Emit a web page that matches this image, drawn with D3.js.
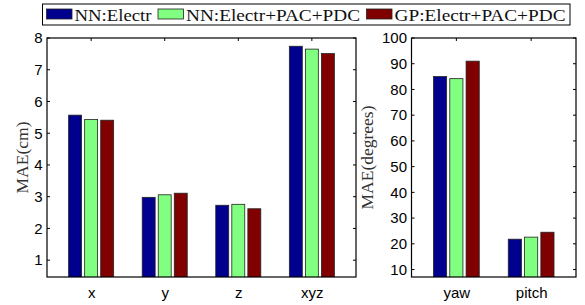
<!DOCTYPE html>
<html><head><meta charset="utf-8">
<script src="https://cdn.jsdelivr.net/npm/d3@7"></script>
<style>
html,body{margin:0;padding:0;background:#fff;}
svg{display:block;}
</style></head>
<body>
<script>
// ---- data ----
const seriesNames = ["NN:Electr", "NN:Electr+PAC+PDC", "GP:Electr+PAC+PDC"];
const seriesColors = ["#00008f", "#80ff80", "#800000"];
const posCategories = ["x", "y", "z", "xyz"];
const posNN = [5.57, 2.98, 2.73, 7.74];
const posNNPac = [5.43, 3.06, 2.76, 7.65];
const posGP = [5.41, 3.11, 2.62, 7.51];
const posTicks = [1, 2, 3, 4, 5, 6, 7, 8];
const angCategories = ["yaw", "pitch"];
const angNN = [85.0, 21.8];
const angNNPac = [84.2, 22.6];
const angGP = [91.0, 24.5];
const angTicks = [10, 20, 30, 40, 50, 60, 70, 80, 90, 100];

const W = 585, H = 305;
const svg = d3.select("body").append("svg").attr("width", W).attr("height", H);
const serif = "'Liberation Serif', 'Times New Roman', serif";
const sans = "'Liberation Sans', Arial, sans-serif";

function panel(opts) {
  const {x0, x1, y0, y1, cats, series, ydom, ticks, label, labelX, id} = opts;
  const n = cats.length;
  const xs = d3.scaleLinear().domain([0.4, n + 0.6]).range([x0, x1]);
  const ys = d3.scaleLinear().domain(ydom).range([y1, y0]);
  const g = svg.append("g");
  g.append("clipPath").attr("id", id).append("rect")
    .attr("x", x0).attr("y", y0).attr("width", x1 - x0).attr("height", y1 - y0);
  const off = 0.218, bw = 0.176;
  const bars = g.append("g").attr("clip-path", `url(#${id})`);
  series.forEach((vals, si) => {
    bars.selectAll(null).data(vals).enter().append("rect")
      .attr("x", (d, i) => xs(i + 1 + (si - 1) * off - bw / 2))
      .attr("width", xs(bw) - xs(0))
      .attr("y", d => ys(d))
      .attr("height", d => ys(0) - ys(d))
      .attr("fill", seriesColors[si])
      .attr("stroke", "#222").attr("stroke-width", 0.8);
  });
  // ticks inward
  const tl = 3;
  ticks.forEach(t => {
    g.append("line").attr("x1", x0).attr("x2", x0 + tl).attr("y1", ys(t)).attr("y2", ys(t)).attr("stroke", "#000");
    g.append("line").attr("x1", x1).attr("x2", x1 - tl).attr("y1", ys(t)).attr("y2", ys(t)).attr("stroke", "#000");
  });
  cats.forEach((c, i) => {
    g.append("line").attr("x1", xs(i + 1)).attr("x2", xs(i + 1)).attr("y1", y0).attr("y2", y0 + tl).attr("stroke", "#000");
  });
  // y tick labels via axis
  const ax = d3.axisLeft(ys).tickValues(ticks).tickSize(0).tickPadding(4.5).tickFormat(d3.format("d"));
  const ag = g.append("g").attr("transform", `translate(${x0},0)`).call(ax);
  ag.select(".domain").remove();
  ag.selectAll("text").attr("font-family", sans).attr("font-size", 15).attr("fill", "#000");
  // x labels
  const xb = d3.axisBottom(xs).tickValues(d3.range(1, n + 1)).tickSize(0).tickPadding(10).tickFormat((d, i) => cats[i]);
  const xg = g.append("g").attr("transform", `translate(0,${y1})`).call(xb);
  xg.select(".domain").remove();
  xg.selectAll("text").attr("font-family", sans).attr("font-size", 15).attr("fill", "#000");
  // box
  g.append("rect").attr("x", x0).attr("y", y0).attr("width", x1 - x0).attr("height", y1 - y0)
    .attr("fill", "none").attr("stroke", "#000").attr("stroke-width", 1.2);
  // y label
  g.append("text").attr("transform", `translate(${labelX},${(y0 + y1) / 2}) rotate(-90)`)
    .attr("text-anchor", "middle").attr("font-family", serif).attr("font-size", 17.5)
    .attr("fill", "#333").text(label);
}

panel({x0: 47, x1: 356, y0: 38, y1: 277, cats: posCategories,
  series: [posNN, posNNPac, posGP], ydom: [0.47, 8], ticks: posTicks,
  label: "MAE(cm)", labelX: 28, id: "c1"});
panel({x0: 411.5, x1: 576, y0: 38, y1: 277, cats: angCategories,
  series: [angNN, angNNPac, angGP], ydom: [7.1, 100], ticks: angTicks,
  label: "MAE(degrees)", labelX: 373, id: "c2"});

// legend
const lg = svg.append("g");
lg.append("rect").attr("x", 42.5).attr("y", 4).attr("width", 527.5).attr("height", 21)
  .attr("fill", "#fff").attr("stroke", "#000").attr("stroke-width", 1);
const swX = [46.5, 158, 366.5];
const txW = [77, 174, 171];
seriesNames.forEach((s, i) => {
  lg.append("rect").attr("x", swX[i]).attr("y", 9).attr("width", 25.5).attr("height", 10)
    .attr("fill", seriesColors[i]).attr("stroke", "#222").attr("stroke-width", 0.8);
  lg.append("text").attr("x", swX[i] + 28).attr("y", 20.8)
    .attr("font-family", serif).attr("font-size", 17.5).attr("fill", "#111")
    .attr("textLength", txW[i]).attr("lengthAdjust", "spacingAndGlyphs").text(s);
});
</script>
</body></html>
